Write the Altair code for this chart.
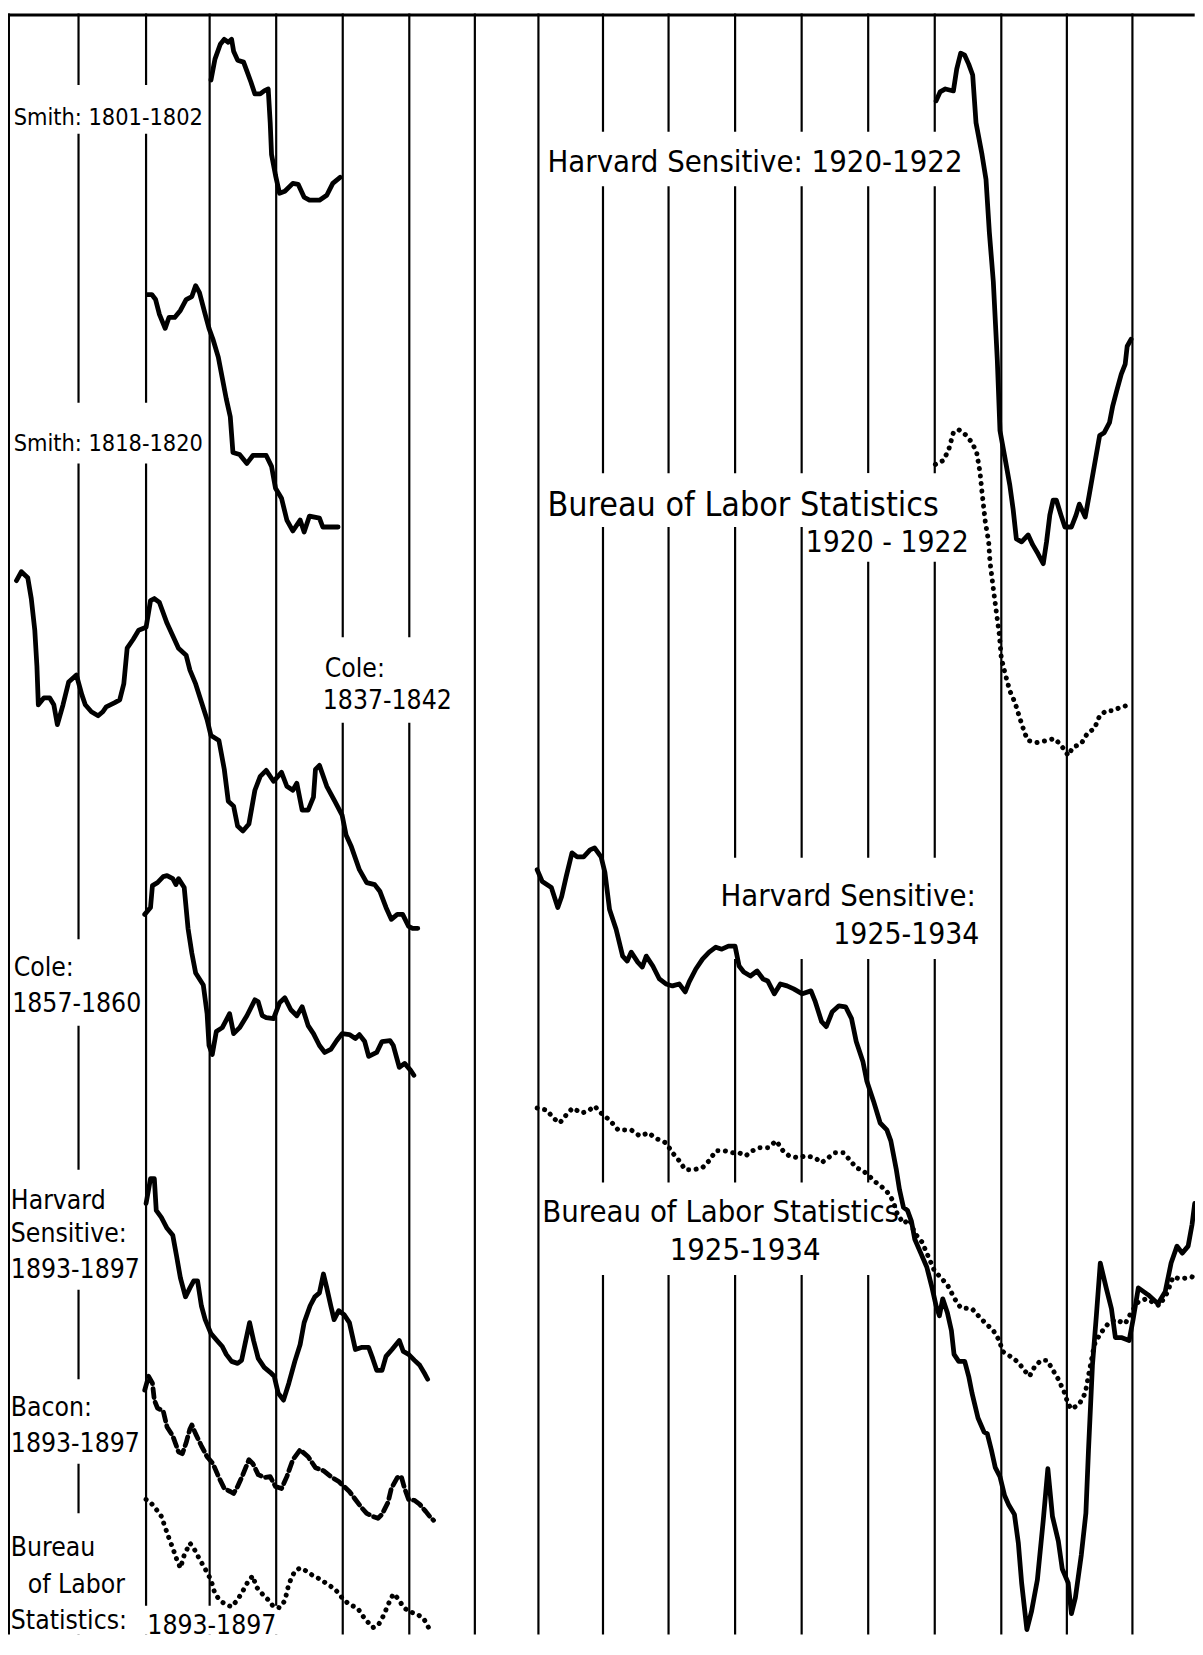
import altair as alt
import pandas as pd

# ---------------- grid (one vertical line per year) ----------------
grid_years = list(range(18))
X_DOMAIN = list(range(19))
X_RANGE = [0, 71, 139, 203, 270, 337, 404, 470, 534, 599, 665, 732, 799, 866, 933, 1000, 1066, 1132, 1198]
Y_LOW, Y_HIGH = 0.4, 163.6
W, H = 1195, 1632

# ---------------- series (x in years on the grid, v = relative level) ----------------
smith1801_x = [3.02,3.08,3.16,3.22,3.28,3.33,3.36,3.42,3.51,3.56,3.62,3.68,3.76,3.82,3.88,3.91,3.93,3.99,4.05,4.13,4.25,4.33,4.42,4.50,4.65,4.76,4.85,4.96]
smith1801_v = [156.9,159.0,160.5,161.0,160.7,161.0,159.8,158.9,158.7,157.8,156.7,155.5,155.5,155.8,156.0,152.6,149.4,147.3,145.5,145.7,146.5,146.4,145.1,144.8,144.8,145.3,146.5,147.1]

smith1818_x = [2.02,2.09,2.15,2.21,2.30,2.36,2.45,2.54,2.63,2.72,2.78,2.84,2.93,2.99,3.05,3.13,3.19,3.25,3.31,3.35,3.45,3.56,3.65,3.85,3.93,3.99,4.08,4.16,4.25,4.36,4.42,4.50,4.65,4.70,4.82,4.93]
smith1818_v = [135.3,135.3,134.8,133.3,131.9,133.0,133.0,133.7,134.8,135.1,136.2,135.5,133.3,131.9,130.8,129.0,126.9,124.8,123.0,119.4,119.2,118.3,119.1,119.1,118.0,115.8,114.8,112.6,111.5,112.6,111.4,113.0,112.8,111.9,111.9,111.9]

cole1837_x = [0.12,0.19,0.28,0.33,0.38,0.41,0.43,0.51,0.59,0.65,0.70,0.78,0.86,0.97,1.05,1.10,1.19,1.29,1.36,1.41,1.53,1.61,1.67,1.72,1.81,1.89,2.00,2.07,2.13,2.21,2.33,2.51,2.63,2.69,2.78,2.96,3.02,3.14,3.22,3.28,3.36,3.42,3.50,3.59,3.68,3.76,3.85,3.96,4.08,4.16,4.25,4.31,4.39,4.48,4.56,4.59,4.65,4.76,4.88,4.99,5.05,5.13,5.25,5.36,5.48,5.56,5.65,5.73,5.82,5.90,5.99,6.05,6.13]
cole1837_v = [106.5,107.4,106.8,104.7,101.5,97.9,94.0,94.7,94.7,94.0,92.0,94.0,96.3,97.0,95.0,94.0,93.3,92.9,93.3,93.8,94.2,94.5,96.1,99.7,100.6,101.5,101.8,104.5,104.7,104.3,102.2,99.7,99.0,97.5,96.1,92.5,90.9,90.4,87.5,84.3,83.8,81.8,81.3,82.0,85.4,86.8,87.4,86.3,87.2,85.8,85.4,86.1,83.4,83.4,84.7,87.5,87.9,85.8,84.3,82.9,80.9,79.7,77.4,76.1,75.9,75.2,73.6,72.4,72.9,72.9,71.7,71.5,71.5]

cole1857_x = [1.98,2.07,2.10,2.18,2.27,2.33,2.42,2.47,2.51,2.60,2.66,2.72,2.78,2.90,2.96,2.99,3.04,3.10,3.19,3.30,3.36,3.45,3.56,3.68,3.73,3.79,3.85,3.96,4.05,4.13,4.22,4.31,4.39,4.48,4.56,4.65,4.73,4.82,4.91,4.99,5.10,5.19,5.25,5.33,5.39,5.51,5.59,5.71,5.76,5.85,5.93,6.02,6.07]
cole1857_v = [72.9,73.6,75.8,76.1,76.7,76.8,76.5,75.9,76.5,75.6,71.5,69.0,67.0,65.8,62.9,59.7,58.8,61.1,61.5,62.9,60.9,61.5,62.7,64.3,64.1,62.7,62.5,62.4,64.0,64.5,63.3,62.7,63.6,61.7,60.9,59.7,59.0,59.3,60.2,60.9,60.8,60.4,60.8,60.1,58.6,59.0,60.1,60.2,59.7,57.5,57.9,57.2,56.7]

harvard1893_x = [2.00,2.07,2.13,2.16,2.24,2.33,2.42,2.48,2.54,2.62,2.69,2.75,2.81,2.87,2.93,3.02,3.11,3.19,3.25,3.33,3.42,3.48,3.53,3.60,3.66,3.73,3.82,3.91,3.97,4.03,4.11,4.19,4.28,4.36,4.42,4.51,4.58,4.65,4.71,4.76,4.82,4.87,4.94,5.02,5.10,5.16,5.19,5.28,5.39,5.45,5.51,5.59,5.65,5.74,5.85,5.91,5.99,6.08,6.16,6.24,6.28]
harvard1893_v = [43.8,46.3,46.3,43.1,42.4,41.3,40.6,38.5,36.3,34.4,35.3,36.0,36.0,33.5,32.1,30.7,30.0,29.4,28.6,27.9,27.7,28.0,29.6,31.8,30.0,28.2,27.3,26.8,26.4,24.7,24.0,25.7,27.9,29.6,31.8,33.5,34.4,34.8,36.7,35.3,33.5,32.1,33.0,32.6,31.8,30.0,29.1,29.3,29.3,28.2,27.0,27.0,28.4,29.1,30.0,28.9,28.6,28.0,27.5,26.6,26.1]

bacon1893_x = [1.98,2.04,2.10,2.13,2.18,2.27,2.33,2.42,2.51,2.57,2.63,2.69,2.72,2.78,2.87,2.96,3.05,3.14,3.22,3.31,3.36,3.42,3.50,3.59,3.65,3.73,3.82,3.91,3.99,4.08,4.16,4.25,4.36,4.48,4.59,4.71,4.82,4.94,5.02,5.10,5.19,5.28,5.36,5.45,5.53,5.59,5.68,5.73,5.82,5.88,5.93,5.99,6.08,6.16,6.25,6.31,6.37]
bacon1893_v = [25.0,26.4,25.7,24.0,23.2,22.9,21.3,20.4,18.8,18.6,19.7,21.1,21.5,20.6,19.4,18.3,17.6,16.2,15.1,14.8,14.6,15.3,16.5,18.0,17.6,16.5,16.2,16.3,15.3,15.1,16.3,18.0,19.0,18.3,17.2,16.9,16.3,15.8,15.3,14.8,14.0,13.2,12.6,12.3,12.1,12.5,13.7,15.1,16.2,16.3,15.1,14.0,13.9,13.5,12.8,12.3,11.9]

bls1893_x = [2.00,2.07,2.16,2.24,2.30,2.36,2.42,2.48,2.54,2.60,2.69,2.75,2.84,2.93,3.02,3.08,3.16,3.25,3.33,3.42,3.50,3.59,3.65,3.70,3.79,3.88,3.96,4.05,4.13,4.19,4.28,4.36,4.45,4.56,4.68,4.76,4.88,4.99,5.10,5.22,5.33,5.45,5.53,5.62,5.68,5.76,5.82,5.91,5.99,6.11,6.22,6.31]
bls1893_v = [14.0,13.7,13.0,12.3,11.2,10.1,9.1,8.0,7.1,8.4,9.6,9.1,8.0,7.0,5.9,4.5,3.8,3.4,3.2,3.9,4.8,5.9,6.3,5.2,4.5,3.9,3.2,3.1,3.8,5.5,6.8,7.1,6.8,6.3,5.9,5.5,5.0,4.1,3.4,3.1,2.0,1.1,1.3,2.4,3.4,4.5,4.1,3.2,2.7,2.5,2.0,0.9]

harvard1920_x = [14.02,14.08,14.16,14.28,14.33,14.39,14.45,14.51,14.57,14.62,14.71,14.77,14.82,14.88,14.94,14.98,15.06,15.13,15.18,15.23,15.31,15.41,15.48,15.56,15.64,15.69,15.74,15.79,15.84,15.91,15.97,16.07,16.14,16.19,16.28,16.34,16.42,16.50,16.57,16.65,16.70,16.76,16.83,16.89,16.92,16.98]
harvard1920_v = [154.8,155.7,156.0,155.8,158.0,159.6,159.4,158.5,157.4,152.6,149.4,146.9,141.6,136.6,128.7,121.6,118.7,116.1,113.7,110.7,110.4,111.1,110.1,109.2,108.2,110.4,113.1,114.6,114.6,113.1,111.9,111.9,113.1,114.2,112.9,115.1,118.1,121.1,121.4,122.4,124.1,125.6,127.3,128.3,130.1,130.8]

bls1920_x = [14.01,14.13,14.21,14.28,14.36,14.46,14.56,14.63,14.68,14.71,14.76,14.81,14.83,14.88,14.93,14.97,15.00,15.06,15.13,15.21,15.28,15.36,15.41,15.54,15.69,15.81,15.89,15.97,16.02,16.09,16.22,16.32,16.42,16.50,16.60,16.70,16.80,16.90,16.96]
bls1920_v = [118.2,118.6,119.7,121.4,121.7,121.2,120.4,119.4,117.4,115.4,112.4,110.4,108.4,105.7,103.1,101.1,98.7,97.1,95.4,94.2,92.7,91.1,90.4,90.2,90.4,90.6,90.1,89.4,88.9,89.7,90.1,91.2,91.6,92.9,93.4,93.4,93.7,93.9,94.1]

harvard1925_x = [7.98,8.06,8.20,8.30,8.36,8.43,8.52,8.60,8.70,8.80,8.87,8.97,9.03,9.10,9.20,9.30,9.37,9.43,9.53,9.60,9.66,9.76,9.86,9.96,10.06,10.16,10.25,10.31,10.41,10.51,10.61,10.71,10.80,10.90,11.00,11.06,11.13,11.23,11.33,11.42,11.49,11.59,11.68,11.78,11.88,12.01,12.14,12.20,12.30,12.37,12.46,12.56,12.66,12.75,12.82,12.92,12.98,13.08,13.18,13.28,13.34,13.42,13.47,13.53,13.59,13.65,13.70,13.79,13.88,13.96,14.02,14.07,14.12,14.19,14.25,14.29,14.36,14.45,14.51,14.56,14.65,14.74,14.79,14.85,14.91,14.98,15.05,15.11,15.20,15.26,15.31,15.39,15.46,15.55,15.64,15.71,15.78,15.87,15.93,16.02,16.07,16.13,16.22,16.29,16.33,16.39,16.45,16.51,16.60,16.68,16.74,16.83,16.95,17.01,17.09,17.24,17.39,17.50,17.59,17.68,17.76,17.85,17.91,17.95]
harvard1925_v = [77.4,76.2,75.6,73.6,74.7,76.7,79.1,78.7,78.7,79.4,79.6,78.7,77.1,73.4,71.4,68.7,68.2,69.1,68.1,67.6,68.7,67.7,66.4,65.9,65.7,65.9,65.1,66.1,67.4,68.4,69.1,69.6,69.4,69.7,69.7,67.7,67.1,66.7,67.2,66.4,66.2,64.9,65.9,65.7,65.4,64.9,65.2,64.2,62.1,61.6,63.1,63.7,63.6,62.4,60.1,58.1,56.1,54.1,51.9,51.2,50.1,47.3,45.2,43.4,43.1,42.0,40.2,38.8,37.4,35.3,33.5,32.5,34.2,32.8,31.0,28.6,27.9,27.9,26.4,24.7,22.2,20.8,20.6,19.0,17.2,16.3,14.4,13.5,12.5,9.6,5.6,0.9,2.7,5.9,11.9,17.1,12.3,9.8,7.0,5.6,2.5,4.1,8.4,12.6,19.0,27.5,32.5,37.8,35.3,33.2,30.3,30.3,30.0,32.1,35.3,34.6,33.7,34.9,37.8,39.5,38.8,39.5,41.7,43.8]

bls1925_x = [7.98,8.13,8.23,8.33,8.43,8.53,8.67,8.77,8.87,8.97,9.10,9.23,9.33,9.43,9.56,9.70,9.79,9.96,10.06,10.16,10.25,10.38,10.51,10.61,10.71,10.84,10.97,11.06,11.16,11.26,11.36,11.49,11.62,11.72,11.81,11.94,12.07,12.20,12.30,12.40,12.50,12.63,12.72,12.82,12.92,13.01,13.08,13.18,13.27,13.37,13.44,13.53,13.62,13.70,13.81,13.90,13.99,14.08,14.19,14.30,14.39,14.56,14.68,14.77,14.88,14.97,15.02,15.14,15.26,15.35,15.43,15.52,15.61,15.70,15.78,15.87,15.96,16.02,16.07,16.19,16.28,16.36,16.42,16.51,16.63,16.74,16.89,16.98,17.09,17.21,17.41,17.53,17.62,17.73,17.91,17.95]
bls1925_v = [53.4,53.2,52.4,51.9,52.7,53.4,52.9,53.1,53.6,52.9,52.2,51.2,51.2,51.2,50.6,50.9,50.4,49.9,48.9,48.1,47.2,47.2,47.4,48.1,49.1,49.1,48.9,48.9,48.6,49.1,49.4,49.4,50.1,49.1,48.6,48.4,48.6,48.4,47.9,48.4,48.9,48.9,48.2,47.4,47.1,46.6,46.1,45.6,45.1,44.1,42.7,41.8,42.2,40.8,39.9,38.5,37.1,36.4,35.6,34.2,33.3,33.2,32.3,31.7,31.0,30.0,28.9,28.4,27.8,27.0,26.4,27.5,28.0,28.0,27.1,26.1,24.8,23.6,23.1,23.6,24.7,27.5,29.6,30.7,31.7,32.1,31.7,32.8,33.9,34.2,33.5,34.8,36.4,36.2,36.4,36.9]

# ---------------- labels ----------------
smith_text = ["Smith: 1801-1802", "Smith: 1818-1820"]
smith_x = [0.08, 0.08]
smith_v = [152.4, 119.6]

left_text = ["Cole:", "1837-1842", "Cole:", "1857-1860",
             "Harvard", "Sensitive:", "1893-1897", "Bacon:", "1893-1897",
             "Bureau", "of Labor", "Statistics:", "1893-1897"]
left_x = [4.73, 4.70, 0.08, 0.06, 0.04, 0.04, 0.04, 0.04, 0.04, 0.04, 0.28, 0.04, 2.02]
left_v = [96.8, 93.6, 66.7, 63.1, 43.2, 39.9, 36.3, 22.4, 18.8, 8.3, 4.6, 1.0, 0.5]

right_text = ["Harvard Sensitive: 1920-1922", "Harvard Sensitive:", "Bureau of Labor Statistics"]
right_x = [8.14, 10.78, 8.06]
right_v = [147.6, 73.7, 41.9]

wide_text = ["Bureau of Labor Statistics"]
wide_x = [8.14]
wide_v = [113.0]

rend_text = ["1920 - 1922", "1925-1934"]
rend_x = [14.51, 14.67]
rend_v = [109.4, 69.9]

mid_text = ["1925-1934"]
mid_x = [11.15]
mid_v = [38.1]

# white gaps cut into the grid lines behind the labels
gap_x1 = [0.1, 0.1, 4.6, 0.1, 0.1, 0.1, 0.1, 1.95, 8.1, 8.1, 12.08, 10.7, 8.06]
gap_x2 = [2.85, 2.85, 6.4, 1.9, 1.9, 1.9, 1.95, 4.25, 14.25, 13.6, 14.55, 14.7, 13.1]
gap_v1 = [151.5, 118.3, 92.2, 61.7, 35.1, 17.6, 0.4, 0.4, 146.2, 111.9, 108.4, 68.4, 36.6]
gap_v2 = [156.4, 124.4, 100.8, 70.4, 47.2, 26.1, 12.6, 3.3, 151.7, 117.3, 117.3, 78.6, 45.9]

# ---------------- build tables ----------------
def series_df(name, xs, vs):
    return pd.DataFrame({"series": name, "x": xs, "v": vs, "i": range(len(xs))})

solid = pd.concat([
    series_df("Smith 1801-1802", smith1801_x, smith1801_v),
    series_df("Smith 1818-1820", smith1818_x, smith1818_v),
    series_df("Cole 1837-1842", cole1837_x, cole1837_v),
    series_df("Cole 1857-1860", cole1857_x, cole1857_v),
    series_df("Harvard 1893-1897", harvard1893_x, harvard1893_v),
    series_df("Harvard 1920-1922", harvard1920_x, harvard1920_v),
    series_df("Harvard 1925-1934", harvard1925_x, harvard1925_v),
])
dotted = pd.concat([
    series_df("BLS 1893-1897", bls1893_x, bls1893_v),
    series_df("BLS 1920-1922", bls1920_x, bls1920_v),
    series_df("BLS 1925-1934", bls1925_x, bls1925_v),
])
dashed = series_df("Bacon 1893-1897", bacon1893_x, bacon1893_v)

grid_df = pd.DataFrame({"year": grid_years, "lo": Y_LOW, "hi": Y_HIGH})
top_df = pd.DataFrame({"x0": [0], "x1": [17.95], "v": [163.45]})
gaps_df = pd.DataFrame({"x1": gap_x1, "x2": gap_x2, "v1": gap_v1, "v2": gap_v2})
smith_df = pd.DataFrame({"t": smith_text, "x": smith_x, "v": smith_v})
left_df = pd.DataFrame({"t": left_text, "x": left_x, "v": left_v})
right_df = pd.DataFrame({"t": right_text, "x": right_x, "v": right_v})
wide_df = pd.DataFrame({"t": wide_text, "x": wide_x, "v": wide_v})
rend_df = pd.DataFrame({"t": rend_text, "x": rend_x, "v": rend_v})
mid_df = pd.DataFrame({"t": mid_text, "x": mid_x, "v": mid_v})

xs = alt.Scale(domain=X_DOMAIN, range=X_RANGE, zero=False, nice=False)
ys = alt.Scale(domain=[Y_LOW, Y_HIGH], zero=False, nice=False)
FONT = "DejaVu Sans Condensed, DejaVu Sans, sans-serif"

def X(f):
    return alt.X(f, type="quantitative", scale=xs, axis=None)

def Y(f):
    return alt.Y(f, type="quantitative", scale=ys, axis=None)

def labels(df, size, align):
    return alt.Chart(df).mark_text(align=align, baseline="alphabetic", font=FONT, fontSize=size, color="black").encode(
        x=X("x"), y=Y("v"), text="t:N")

grid = alt.Chart(grid_df).transform_filter("datum.year > 0").mark_rule(color="black", strokeWidth=2.2).encode(
    x=X("year"), y=Y("lo"), y2="hi")
border = alt.Chart(grid_df).transform_filter("datum.year == 0").mark_rule(color="black", strokeWidth=4).encode(
    x=X("year"), y=Y("lo"), y2="hi")
top = alt.Chart(top_df).mark_rule(color="black", strokeWidth=3).encode(x=X("x0"), x2="x1", y=Y("v"))
gaps = alt.Chart(gaps_df).mark_rect(color="white").encode(x=X("x1"), x2="x2", y=Y("v1"), y2="v2")

solid_l = alt.Chart(solid).mark_line(color="black", strokeWidth=4.8, strokeJoin="round", strokeCap="round").encode(
    x=X("x"), y=Y("v"), detail="series:N", order="i:Q")
dotted_l = alt.Chart(dotted).mark_line(color="black", strokeWidth=5, strokeCap="round", strokeDash=[0.1, 7.5]).encode(
    x=X("x"), y=Y("v"), detail="series:N", order="i:Q")
dashed_l = alt.Chart(dashed).mark_line(color="black", strokeWidth=4.8, strokeCap="round", strokeJoin="round",
                                       strokeDash=[9, 5]).encode(x=X("x"), y=Y("v"), order="i:Q")

chart = alt.layer(
    grid, border, top, gaps, solid_l, dotted_l, dashed_l,
    labels(smith_df, 23.5, "left"),
    labels(left_df, 26.5, "left"),
    labels(right_df, 31, "left"),
    labels(wide_df, 34, "left"),
    labels(rend_df, 30, "right"),
    labels(mid_df, 31, "center"),
).properties(
    width=W, height=H, padding=0, autosize="none", background="white"
).configure_view(stroke=None)

chart.save("out.html", embed_options={"renderer": "svg", "actions": False})
